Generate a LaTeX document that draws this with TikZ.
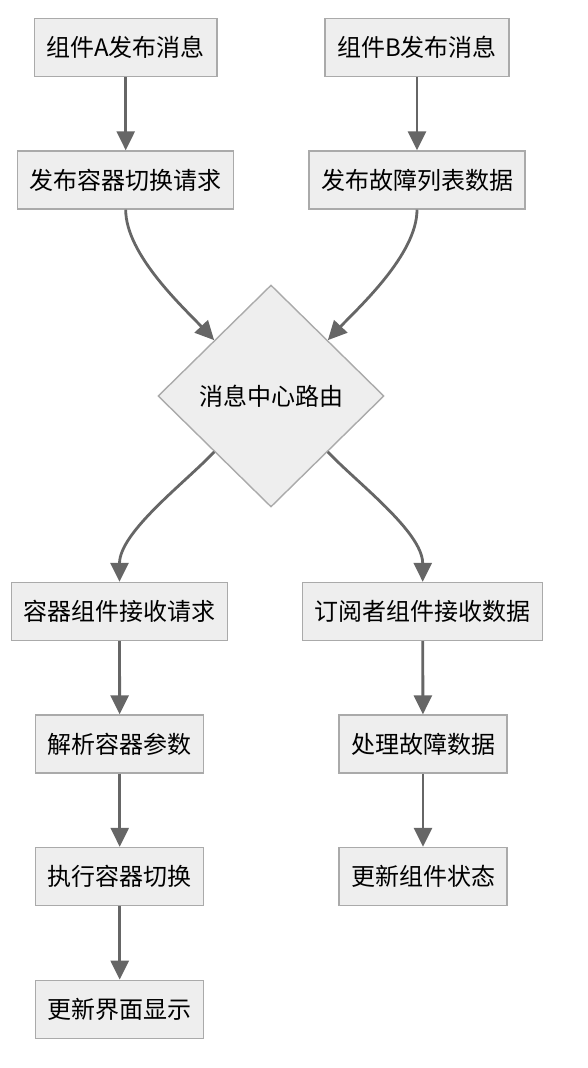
\documentclass[tikz,border=0pt]{standalone}
\usepackage{fontspec}
\setmainfont{Noto Sans CJK SC}
\usetikzlibrary{shapes.geometric,arrows.meta}
\definecolor{boxfill}{HTML}{EEEEEE}
\definecolor{boxline}{HTML}{AAAAAA}
\definecolor{arrowcol}{HTML}{666666}
\begin{document}
\begin{tikzpicture}[x=1pt,y=-1pt,
  box/.style={draw=boxline,fill=boxfill,line width=1.4pt,inner xsep=12pt,inner ysep=0pt,
    minimum height=58pt,font=\fontsize{24pt}{28pt}\selectfont},
  decision/.style={diamond,draw=boxline,fill=boxfill,line width=1.4pt,inner sep=0pt,
    minimum width=226pt,minimum height=222pt,font=\fontsize{24pt}{28pt}\selectfont},
  flow/.style={draw=arrowcol,line width=2.8pt,-{Triangle[length=19pt,width=18pt]}}]
\useasboundingbox (0,0) rectangle (588,1068);
\node[box] (a1) at (125.7,47.7) {组件A发布消息};
\node[box] (b1) at (417,47.7) {组件B发布消息};
\node[box] (a2) at (125.7,180) {发布容器切换请求};
\node[box] (b2) at (417,180) {发布故障列表数据};
\node[decision] (d) at (271,396) {消息中心路由};
\node[box] (c1) at (119.5,611.5) {容器组件接收请求};
\node[box] (s1) at (422.7,611.5) {订阅者组件接收数据};
\node[box] (c2) at (119.7,744) {解析容器参数};
\node[box] (s2) at (423,744) {处理故障数据};
\node[box] (c3) at (119.7,876.5) {执行容器切换};
\node[box] (s3) at (423,876.5) {更新组件状态};
\node[box] (c4) at (119.7,1009.3) {更新界面显示};
\draw[flow] (a1) -- (a2);
\draw[flow] (b1) -- (b2);
\draw[flow] (a2.south) .. controls +(0,45) and +(-30,-32) .. (d.north west);
\draw[flow] (b2.south) .. controls +(0,45) and +(30,-32) .. (d.north east);
\draw[flow] (d.south west) .. controls +(-28,30) and +(0,-50) .. (c1.north);
\draw[flow] (d.south east) .. controls +(28,30) and +(0,-50) .. (s1.north);
\draw[flow] (c1) -- (c2);
\draw[flow] (c2) -- (c3);
\draw[flow] (c3) -- (c4);
\draw[flow] (s1) -- (s2);
\draw[flow] (s2) -- (s3);
\end{tikzpicture}
\end{document}
